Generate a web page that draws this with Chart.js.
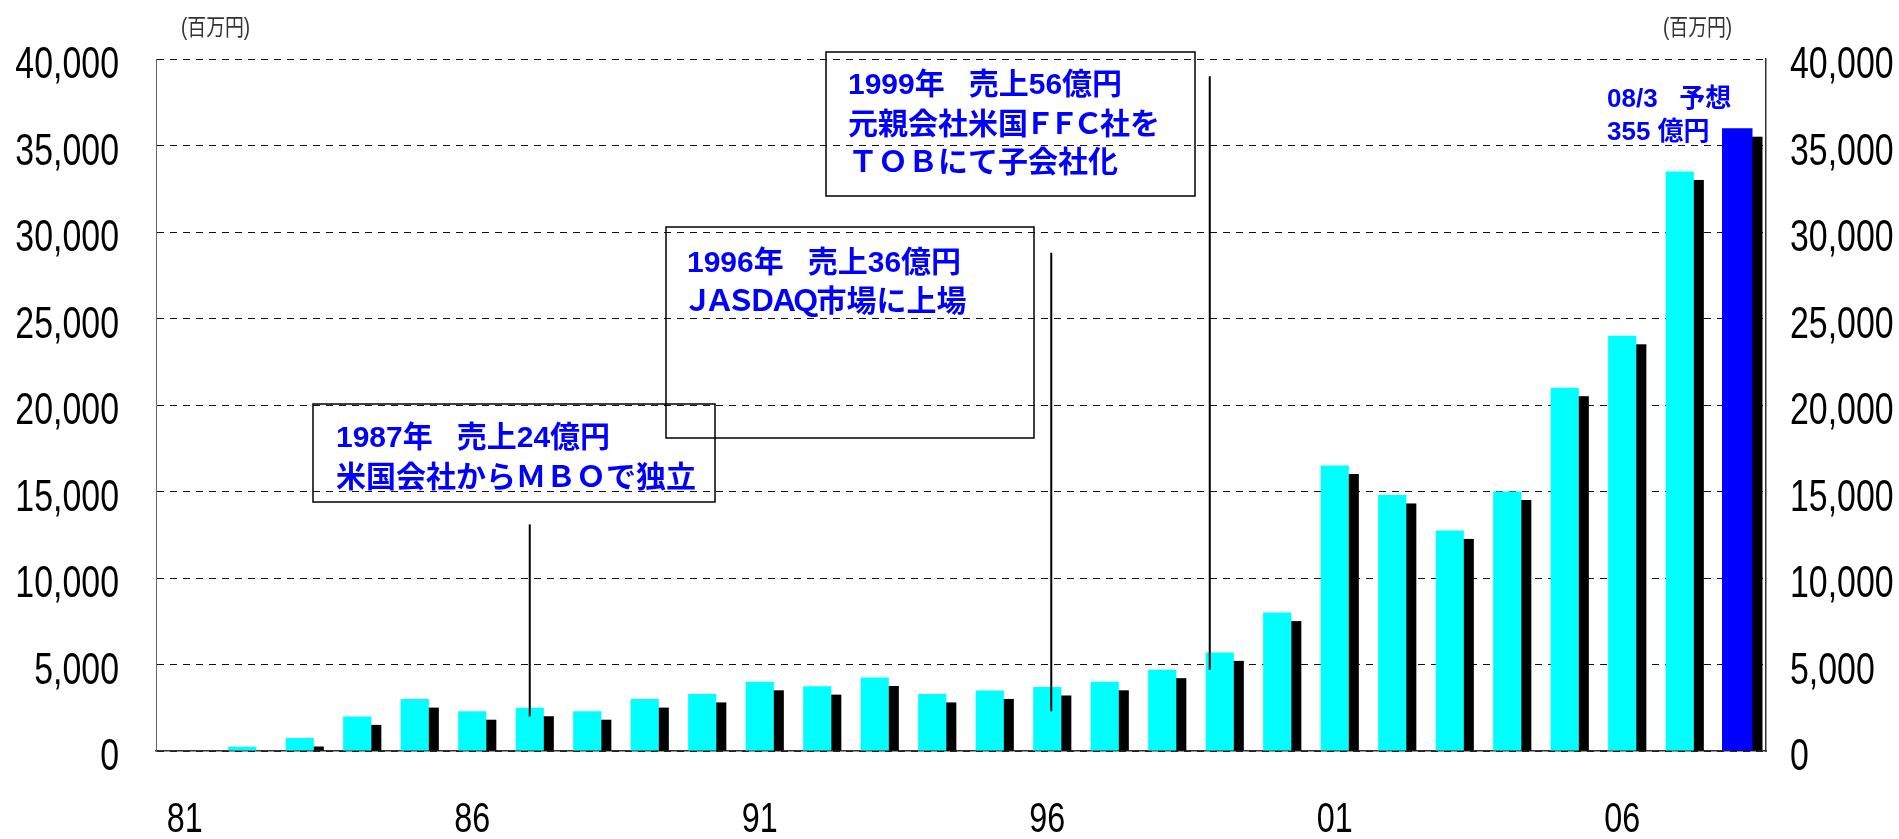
<!DOCTYPE html>
<html>
<head>
<meta charset="utf-8">
<script src="https://cdn.jsdelivr.net/npm/chart.js@4.4.1/dist/chart.umd.min.js"></script>
<style>
html,body{margin:0;padding:0;background:#fff;}
#wrap{width:1899px;height:839px;}
</style>
</head>
<body>
<div id="wrap"><canvas id="chart" width="1899" height="839"></canvas></div>
<script>
// fiscal years (81 .. 08) and sales in million yen
let years=['81','82','83','84','85','86','87','88','89','90','91','92','93','94','95','96','97','98','99','00','01','02','03','04','05','06','07','08'];
let sales=[0,250,750,2000,3000,2300,2500,2300,3000,3300,4000,3750,4250,3300,3500,3700,4000,4700,5700,8000,16500,14800,12750,15000,21000,24000,33500,null];
let forecast=[null,null,null,null,null,null,null,null,null,null,null,null,null,null,null,null,null,null,null,null,null,null,null,null,null,null,null,36000];
let yMin=0;
let yMax=40000;
let yStep=5000;
let labelEvery=5;

let numFont="'Liberation Sans',Arial,sans-serif";
let noteFont="'Liberation Sans','Noto Sans CJK JP',sans-serif";
let narrow=0.77; // horizontal squeeze to imitate a narrow face

// text boxes (pixel layout) and their leader lines (category + values)
// pitch: advance of full-width latin letters on each line (1 = full em)
let notes=[
    {box:[313,404,715,502], x:336, base:[447,487], pitch:[1,1],
     lines:['1987年　売上24億円','米国会社からＭＢＯで独立']},
    {box:[666,227,1034,438], x:687, base:[272,311], pitch:[1,0.72],
     lines:['1996年　売上36億円','ＪＡＳＤＡＱ市場に上場']},
    {box:[826,52,1195,196], x:848, base:[94,134,172], pitch:[1,0.8,1],
     lines:['1999年　売上56億円','元親会社米国ＦＦＣ社を','ＴＯＢにて子会社化']}
];
let leaders=[
    {cat:'87', dx:0, from:13100, to:2000},
    {cat:'96', dx:4, from:28800, to:2300},
    {cat:'99', dx:-10, from:39000, to:4700}
];

function $(id){
    return document.getElementById(id);
}

function fmt(v){
    return Number(v).toLocaleString('en-US');
}

function narrowText(ctx,text,x,y,align,k){
    ctx.save();
    ctx.translate(x,y);
    ctx.scale(k||narrow,1);
    ctx.textAlign=align;
    ctx.fillText(text,0,0);
    ctx.restore();
}

// glyph by glyph so full-width latin letters can sit on a tighter pitch
function noteText(ctx,text,x,y,pitch){
    ctx.textAlign='left';
    for(let ch of text){
        let code=ch.charCodeAt(0);
        let k=1;
        if(code>=0xFF21 && code<=0xFF5A) k=pitch;
        else if(code===0x3000) k=0.8;
        let w=ctx.measureText(ch).width;
        ctx.fillText(ch,x-w*(1-k)/2,y);
        x+=w*k;
    }
}

// black offset "shadow" behind every bar
const shadowPlugin={
    id:'shadow',
    beforeDatasetsDraw(chart){
        let ctx=chart.ctx;
        ctx.save();
        ctx.fillStyle='#000';
        chart.data.datasets.forEach(function(ds,i){
            chart.getDatasetMeta(i).data.forEach(function(bar,j){
                if(ds.data[j]==null) return;
                let p=bar.getProps(['x','y','base','width'],true);
                let top=p.y+8.5;
                if(top>=p.base) return;
                ctx.fillRect(p.x-p.width/2+10,top,p.width,p.base-top);
            });
        });
        ctx.restore();
    }
};

// tick labels drawn from the scales' own ticks, squeezed horizontally
const tickPlugin={
    id:'narrowTicks',
    afterDraw(chart){
        let ctx=chart.ctx;
        let xs=chart.scales.x, ys=chart.scales.y, y2=chart.scales.y2;
        ctx.save();
        ctx.fillStyle='#000';
        ctx.textBaseline='alphabetic';
        ctx.font='44px '+numFont;
        ys.ticks.forEach(function(t){
            narrowText(ctx,t.label,119,ys.getPixelForValue(t.value)+19,'right');
        });
        y2.ticks.forEach(function(t){
            narrowText(ctx,t.label,1790,y2.getPixelForValue(t.value)+19,'left');
        });
        ctx.font='42px '+numFont;
        xs.ticks.forEach(function(t,i){
            if(!t.label) return;
            narrowText(ctx,t.label,xs.getPixelForTick(i),832,'center');
        });
        ctx.restore();
    }
};

const notePlugin={
    id:'notes',
    afterDatasetsDraw(chart){
        let ctx=chart.ctx;
        let xs=chart.scales.x;
        let ys=chart.scales.y;
        ctx.save();

        // leader lines
        ctx.strokeStyle='#000';
        ctx.lineWidth=2;
        leaders.forEach(function(l){
            let x=xs.getPixelForValue(years.indexOf(l.cat))+l.dx;
            ctx.beginPath();
            ctx.moveTo(x,ys.getPixelForValue(l.from));
            ctx.lineTo(x,ys.getPixelForValue(l.to));
            ctx.stroke();
        });

        // boxes
        ctx.lineWidth=1.5;
        ctx.fillStyle='#0000ff';
        ctx.font='bold 30px '+noteFont;
        ctx.textBaseline='alphabetic';
        notes.forEach(function(n){
            ctx.strokeRect(n.box[0],n.box[1],n.box[2]-n.box[0],n.box[3]-n.box[1]);
            n.lines.forEach(function(t,k){
                noteText(ctx,t,n.x,n.base[k],n.pitch[k]);
            });
        });

        // forecast note
        ctx.textAlign='left';
        ctx.font='bold 26px '+noteFont;
        ctx.fillText('08/3   予想',1607,107);
        ctx.fillText('355 億円',1607,140);

        // units
        ctx.fillStyle='#333';
        ctx.font="23px 'Liberation Sans','Noto Sans CJK JP',sans-serif";
        narrowText(ctx,'(百万円)',181,35,'left',0.82);
        narrowText(ctx,'(百万円)',1663,35,'left',0.82);
        ctx.restore();
    }
};

new Chart($('chart'),{
    type:'bar',
    data:{
        labels:years,
        datasets:[
            {label:'sales', data:sales, backgroundColor:'#00ffff',
             grouped:false, categoryPercentage:1, barPercentage:0.49},
            {label:'forecast', data:forecast, backgroundColor:'#0000ff',
             grouped:false, categoryPercentage:1, barPercentage:0.53}
        ]
    },
    options:{
        responsive:false,
        animation:false,
        events:[],
        layout:{padding:{top:59,left:0,right:0,bottom:0}},
        plugins:{legend:{display:false},tooltip:{enabled:false},title:{display:false}},
        scales:{
            x:{
                grid:{display:false},
                border:{display:true,color:'#333',width:1.5},
                ticks:{
                    autoSkip:false, maxRotation:0, padding:40, color:'rgba(0,0,0,0)',
                    font:{family:numFont,size:42},
                    callback:function(v,i){ return i%labelEvery===0 ? years[i] : ''; }
                },
                afterFit:function(s){ s.height=88; }
            },
            y:{
                position:'left', min:yMin, max:yMax,
                grid:{color:'#111',lineWidth:1,drawTicks:false},
                border:{display:true,color:'#666',width:1,dash:[7,6]},
                ticks:{stepSize:yStep, padding:37, color:'rgba(0,0,0,0)',
                    font:{family:numFont,size:20}, callback:fmt},
                afterFit:function(s){ s.width=156; }
            },
            y2:{
                position:'right', min:yMin, max:yMax,
                grid:{display:false,drawTicks:false},
                border:{display:true,color:'#333',width:1.5},
                ticks:{stepSize:yStep, padding:24, color:'rgba(0,0,0,0)',
                    font:{family:numFont,size:20}, callback:fmt},
                afterFit:function(s){ s.width=133; }
            }
        }
    },
    plugins:[shadowPlugin,notePlugin,tickPlugin]
});
</script>
</body>
</html>
